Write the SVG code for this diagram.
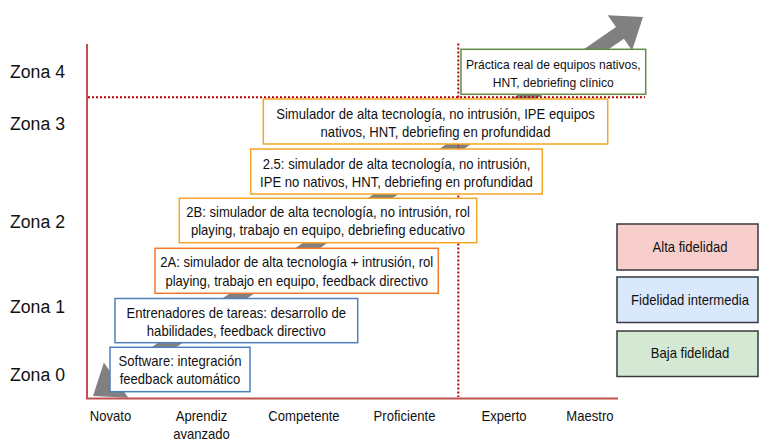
<svg xmlns="http://www.w3.org/2000/svg" width="759" height="442" viewBox="0 0 759 442">
<style>
text{font-family:"Liberation Sans",Arial,Helvetica,sans-serif;fill:#111;}
.t{font-size:14px;text-anchor:middle;}
.tg{font-size:13px;text-anchor:middle;}
.z{font-size:19px;}
.box{fill:#fff;stroke-width:1.5;}
.blue{stroke:#4f81bd;}
.gold{stroke:#f5a623;}
.orng{stroke:#ef7a2c;}
.grn{stroke:#628c46;}
.leg{stroke:#36393d;stroke-width:1.5;}
.axis{stroke:#c0504d;stroke-width:2;fill:none;}
.dot{stroke:#b80000;stroke-width:2;stroke-dasharray:2 2;fill:none;}
</style>
<g id="arrow">
<polygon points="93,396 128.3,397.8 120,385.9 623.9,38.7 632.1,50.6 643,17 607.7,15.2 616,27.1 112.1,374.4 103.9,362.4" fill="#808080"/>
</g>
<g id="axes">
<polyline class="axis" points="87,44 87,398.5 618,398.5"/>
<line class="dot" x1="88" y1="97.3" x2="645" y2="97.3"/>
<line class="dot" x1="458.3" y1="43.5" x2="458.3" y2="397"/>
</g>
<g id="zones">
<text class="z" transform="translate(10 0) scale(0.93 1)" x="0" y="78">Zona 4</text>
<text class="z" transform="translate(10 0) scale(0.93 1)" x="0" y="130">Zona 3</text>
<text class="z" transform="translate(10 0) scale(0.93 1)" x="0" y="228">Zona 2</text>
<text class="z" transform="translate(10 0) scale(0.93 1)" x="0" y="313">Zona 1</text>
<text class="z" transform="translate(10 0) scale(0.93 1)" x="0" y="381">Zona 0</text>
</g>
<g id="levels">
<text class="t" transform="translate(110.5 0) scale(0.935 1)" x="0" y="421.5">Novato</text>
<text class="t" transform="translate(201.5 0) scale(0.935 1)"><tspan x="0" y="421.5">Aprendiz</tspan><tspan x="0" y="439">avanzado</tspan></text>
<text class="t" transform="translate(304 0) scale(0.935 1)" x="0" y="421.5">Competente</text>
<text class="t" transform="translate(404.5 0) scale(0.935 1)" x="0" y="421.5">Proficiente</text>
<text class="t" transform="translate(504 0) scale(0.935 1)" x="0" y="421.5">Experto</text>
<text class="t" transform="translate(590 0) scale(0.935 1)" x="0" y="421.5">Maestro</text>
</g>
<g id="n-practica">
<rect class="box grn" x="461" y="49.3" width="184.7" height="45"/>
<text class="tg" transform="translate(553.3 0) scale(0.93 1)"><tspan x="0" y="69.3">Práctica real de equipos nativos,</tspan><tspan x="0" y="86.8">HNT, debriefing clínico</tspan></text>
</g>
<g id="n-ipe-nativos">
<rect class="box gold" x="263.3" y="99" width="344.4" height="45"/>
<text class="t" transform="translate(435.5 0) scale(0.935 1)"><tspan x="0" y="119">Simulador de alta tecnología, no intrusión, IPE equipos</tspan><tspan x="0" y="136.8">nativos, HNT, debriefing en profundidad</tspan></text>
</g>
<g id="n-25">
<rect class="box gold" x="250.7" y="149" width="291.6" height="45"/>
<text class="t" transform="translate(396.5 0) scale(0.935 1)"><tspan x="0" y="169">2.5: simulador de alta tecnología, no intrusión,</tspan><tspan x="0" y="186.8">IPE no nativos, HNT, debriefing en profundidad</tspan></text>
</g>
<g id="n-2b">
<rect class="box gold" x="179.3" y="198.3" width="297.4" height="44.4"/>
<text class="t" transform="translate(328 0) scale(0.935 1)"><tspan x="0" y="216.8">2B: simulador de alta tecnología, no intrusión, rol</tspan><tspan x="0" y="235">playing, trabajo en equipo, debriefing educativo</tspan></text>
</g>
<g id="n-2a">
<rect class="box orng" x="155" y="248.3" width="283.3" height="45"/>
<text class="t" transform="translate(296.7 0) scale(0.935 1)"><tspan x="0" y="267.5">2A: simulador de alta tecnología + intrusión, rol</tspan><tspan x="0" y="286">playing, trabajo en equipo, feedback directivo</tspan></text>
</g>
<g id="n-entrenadores">
<rect class="box blue" x="115" y="298.5" width="242.7" height="44.2"/>
<text class="t" transform="translate(236.3 0) scale(0.935 1)"><tspan x="0" y="318.3">Entrenadores de tareas: desarrollo de</tspan><tspan x="0" y="336">habilidades, feedback directivo</tspan></text>
</g>
<g id="n-software">
<rect class="box blue" x="110" y="347.3" width="140" height="44.4"/>
<text class="t" transform="translate(180 0) scale(0.935 1)"><tspan x="0" y="366">Software: integración</tspan><tspan x="0" y="384">feedback automático</tspan></text>
</g>
<g id="legend-alta">
<rect class="leg" x="617" y="224" width="141" height="46" fill="#f8cecc"/>
<text class="t" transform="translate(690 0) scale(0.935 1)" x="0" y="252">Alta fidelidad</text>
</g>
<g id="legend-intermedia">
<rect class="leg" x="617" y="277" width="141" height="45.5" fill="#dae8fc"/>
<text class="t" transform="translate(690 0) scale(0.935 1)" x="0" y="305">Fidelidad intermedia</text>
</g>
<g id="legend-baja">
<rect class="leg" x="617" y="331" width="141" height="45.5" fill="#d5e8d4"/>
<text class="t" transform="translate(690 0) scale(0.935 1)" x="0" y="358.5">Baja fidelidad</text>
</g>
</svg>
